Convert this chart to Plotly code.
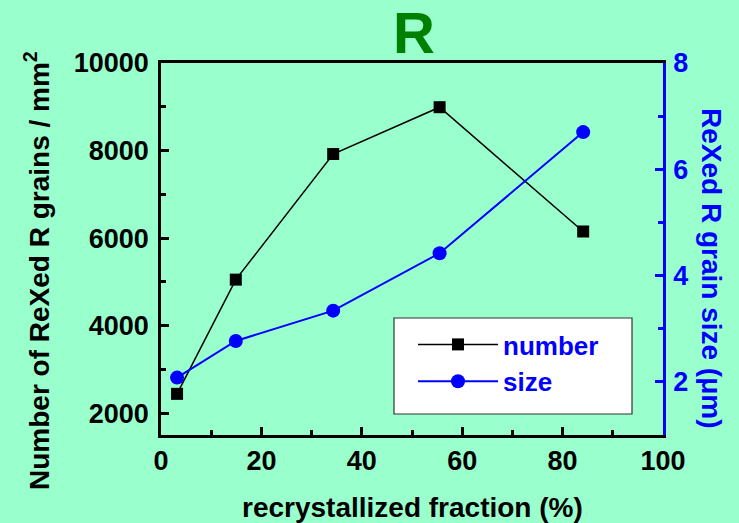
import plotly.graph_objects as go

# Data
frac = [3.2, 14.9, 34.3, 55.5, 84.1]
number = [2440, 5050, 7920, 8990, 6150]
size = [2.08, 2.77, 3.34, 4.42, 6.70]

x_ticks = [0, 20, 40, 60, 80, 100]
x_minor = [10, 30, 50, 70, 90]
y_ticks = [2000, 4000, 6000, 8000, 10000]
y_labels = ["2000", "4000", "6000", "8000", "10000"]
y_minor = [3000, 5000, 7000, 9000]
y2_ticks = [2, 4, 6, 8]
y2_minor = [3, 5, 7]

BG = "#99FFCC"
FONT = "Liberation Sans, Arial, sans-serif"
W, H = 739, 523
L, R, T, B = 161, 76, 63, 88
pw, ph = W - L - R, H - T - B


def px(xp):
    return (xp - L) / pw


def py(yp):
    return (H - B - yp) / ph


fig = go.Figure()
fig.add_trace(go.Scatter(
    x=frac, y=number, name="number", mode="lines+markers",
    line=dict(color="black", width=1.5),
    marker=dict(symbol="square", size=12, color="black"),
))
fig.add_trace(go.Scatter(
    x=frac, y=size, name="size", mode="lines+markers", yaxis="y2",
    line=dict(color="#0000FF", width=2),
    marker=dict(symbol="circle", size=14, color="#0000FF"),
))

tickfont = dict(family=FONT, size=27, color="black", weight="bold")

fig.update_layout(
    width=W, height=H,
    margin=dict(l=L, r=R, t=T, b=B, autoexpand=False),
    paper_bgcolor=BG, plot_bgcolor=BG,
    xaxis=dict(
        range=[0, 100], tickmode="array", tickvals=x_ticks, automargin=False,
        ticks="inside", ticklen=8, tickwidth=2.5, tickcolor="black",
        showline=True, linewidth=2.5, linecolor="black",
        mirror=True, showgrid=False, zeroline=False, tickfont=tickfont,
        minor=dict(tickmode="array", tickvals=x_minor, ticks="inside", ticklen=5,
                   tickwidth=2.5, tickcolor="black", showgrid=False),
    ),
    yaxis=dict(
        range=[1500, 10000], tickmode="array", tickvals=y_ticks, ticktext=y_labels,
        automargin=False,
        ticks="inside", ticklen=8, tickwidth=2.5, tickcolor="black",
        showline=True, linewidth=2.5, linecolor="black",
        showgrid=False, zeroline=False, tickfont=tickfont, ticklabelstandoff=4,
        minor=dict(tickmode="array", tickvals=y_minor, ticks="inside", ticklen=5,
                   tickwidth=2.5, tickcolor="black", showgrid=False),
    ),
    yaxis2=dict(
        range=[1, 8], tickmode="array", tickvals=y2_ticks, overlaying="y", side="right",
        automargin=False,
        ticks="inside", ticklen=8, tickwidth=2.5, tickcolor="#0000FF",
        showline=True, linewidth=2.5, linecolor="#0000FF",
        showgrid=False, zeroline=False, ticklabelstandoff=2,
        tickfont=dict(family=FONT, size=27, color="#0000FF", weight="bold"),
        minor=dict(tickmode="array", tickvals=y2_minor, ticks="inside", ticklen=5,
                   tickwidth=2.5, tickcolor="#0000FF", showgrid=False),
    ),
    showlegend=True,
    legend=dict(
        x=px(413), y=py(321), xanchor="left", yanchor="top",
        bgcolor="rgba(0,0,0,0)", borderwidth=0, itemwidth=80,
        font=dict(family=FONT, size=26, color="#0000FF", weight="bold"),
        tracegroupgap=0,
    ),
    shapes=[dict(type="rect", xref="paper", yref="paper",
                 x0=px(394), x1=px(632), y0=py(414), y1=py(318),
                 fillcolor="white", line=dict(color="#333333", width=1.2),
                 layer="above")],
    annotations=[
        dict(text="R", xref="paper", yref="paper", x=px(414), y=py(32),
             showarrow=False, xanchor="center", yanchor="middle",
             font=dict(family=FONT, size=58, color="#008000", weight="bold")),
        dict(text="recrystallized fraction (%)", xref="paper", yref="paper",
             x=px(412), y=py(507), showarrow=False,
             xanchor="center", yanchor="middle",
             font=dict(family=FONT, size=28, color="black", weight="bold")),
        dict(text="Number of ReXed R grains / mm<sup>2</sup>", xref="paper", yref="paper",
             x=px(37), y=py(271), textangle=-90, showarrow=False,
             xanchor="center", yanchor="middle",
             font=dict(family=FONT, size=28, color="black", weight="bold")),
        dict(text="ReXed R grain size (μm)", xref="paper", yref="paper",
             x=px(712), y=py(268), textangle=90, showarrow=False,
             xanchor="center", yanchor="middle",
             font=dict(family=FONT, size=28, color="#0000FF", weight="bold")),
    ],
)

fig.write_html("out.html")
